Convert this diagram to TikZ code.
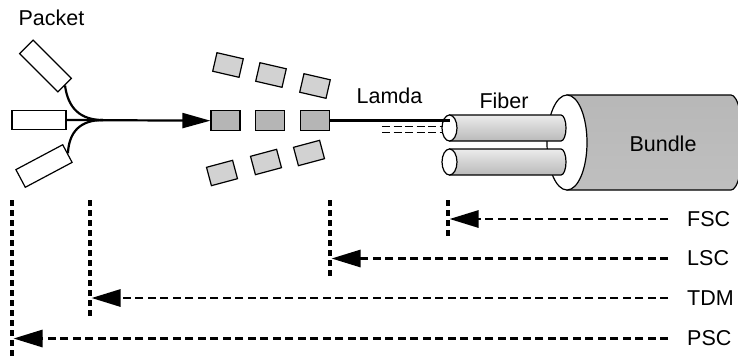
\documentclass[tikz,border=0pt]{standalone}
\usepackage{fontspec}
\setmainfont{Liberation Sans}
\usetikzlibrary{arrows.meta,shapes.geometric}

\tikzset{
  pkt/.style={draw, fill=white, line width=1.2pt, minimum width=54pt, minimum height=19pt, inner sep=0pt},
  cell/.style={draw, line width=1.2pt, fill=gray!35, minimum width=27pt, minimum height=19pt, inner sep=0pt},
  midcell/.style={cell, fill=gray!58, minimum width=29pt, minimum height=20pt},
  fibend/.style={ellipse, draw, fill=white, line width=1.2pt, minimum width=15pt, minimum height=26pt, inner sep=0pt},
  lbl/.style={inner sep=0pt, font=\fontsize{21.5}{24}\selectfont},
  level/.style={line width=3.5pt, dash pattern=on 6pt off 4pt},
  ctrl/.style={line width=2.8pt, dash pattern=on 8pt off 4.5pt, -{Triangle[length=29pt,width=17pt]}, shorten >=1.5pt},
  lam/.style={line width=1.1pt, dash pattern=on 8pt off 3.5pt},
}

\begin{document}
\begin{tikzpicture}[x=1pt,y=-1pt]
\useasboundingbox (0,0) rectangle (738,357);
\clip (0,0) rectangle (738,357);

% packets merging into one stream
\node[lbl] (packet) at (51.5,17.5) {Packet};
\node[pkt, rotate=-45] (p1) at (45.5,66) {};
\node[pkt] (p2) at (39,120) {};
\node[pkt, rotate=28, minimum width=53pt, minimum height=20pt] (p3) at (44,166) {};
\coordinate (join) at (103,120);

% cells
\node[cell, rotate=-13] (c11) at (228,65) {};
\node[cell, rotate=-13] (c12) at (271,75) {};
\node[cell, rotate=-13] (c13) at (315,86) {};
\node[midcell] (c21) at (225.5,120.7) {};
\node[midcell] (c22) at (270,120.7) {};
\node[midcell] (c23) at (315,120.7) {};
\node[cell, rotate=15] (c31) at (222,173) {};
\node[cell, rotate=15] (c32) at (266,162) {};
\node[cell, rotate=15] (c33) at (309,153) {};

\draw[line width=2.2pt] (p1.east) .. controls (68,108) and (80,120) .. (join);
\draw[line width=2.2pt] (p3.east) .. controls (69,132) and (80,120) .. (join);
\draw[line width=2.2pt, -{Triangle[length=28pt,width=15pt]}] (p2.east) -- (c21.west);

% bundle
\shade[draw=black, line width=1.2pt, top color=gray!56, middle color=gray!8, bottom color=gray!50]
  (567,95) -- (731,95) arc[start angle=-90, end angle=90, x radius=12, y radius=47.5] -- (567,190) -- cycle;
\draw[fill=white, line width=1.2pt] (567,142.5) ellipse[x radius=20, y radius=47.5];

% fibers
\shade[draw=black, line width=1.2pt, top color=gray!15, middle color=white, bottom color=gray!55]
  (449.5,115) -- (561,115) arc[start angle=-90, end angle=90, x radius=5, y radius=13] -- (449.5,141) -- cycle;
\shade[draw=black, line width=1.2pt, top color=gray!15, middle color=white, bottom color=gray!55]
  (449.5,149) -- (561,149) arc[start angle=-90, end angle=90, x radius=5, y radius=13] -- (449.5,175) -- cycle;
\node[fibend] (f1) at (449.5,128) {};
\node[fibend] (f2) at (449.5,162) {};

\draw[line width=2.5pt] (c23.east) -- (f1.center |- c23.east);
\draw[lam] (382,126.7) -- (443,126.7);
\draw[lam] (382,132.7) -- (443,132.7);

\node[lbl] (lamda) at (389.5,95.5) {Lamda};
\node[lbl] (fiber) at (504,100.5) {Fiber};
\node[lbl] (bundle) at (663,143.5) {Bundle};

% switching levels
\node[lbl, anchor=west] (fsc) at (687,219) {FSC};
\node[lbl, anchor=west] (lsc) at (687,258.5) {LSC};
\node[lbl, anchor=west] (tdm) at (687,298) {TDM};
\node[lbl, anchor=west] (psc) at (687,338.5) {PSC};

\coordinate (fscA) at (448,200);
\coordinate (fscB) at (448,237);
\coordinate (lscA) at (330,200);
\coordinate (lscB) at (330,277);
\coordinate (tdmA) at (90,200);
\coordinate (tdmB) at (90,318);
\coordinate (pscA) at (12,200);
\coordinate (pscB) at (12,360);

\draw[level] (fscA) -- (fscB);
\draw[level] (lscA) -- (lscB);
\draw[level] (tdmA) -- (tdmB);
\draw[level] (pscA) -- (pscB);

\draw[ctrl] ([xshift=-19pt]fsc.west) -- (fscA |- fsc.west);
\draw[ctrl] ([xshift=-19pt]lsc.west) -- (lscA |- lsc.west);
\draw[ctrl] ([xshift=-19pt]tdm.west) -- (tdmA |- tdm.west);
\draw[ctrl] ([xshift=-19pt]psc.west) -- (pscA |- psc.west);
\end{tikzpicture}
\end{document}
